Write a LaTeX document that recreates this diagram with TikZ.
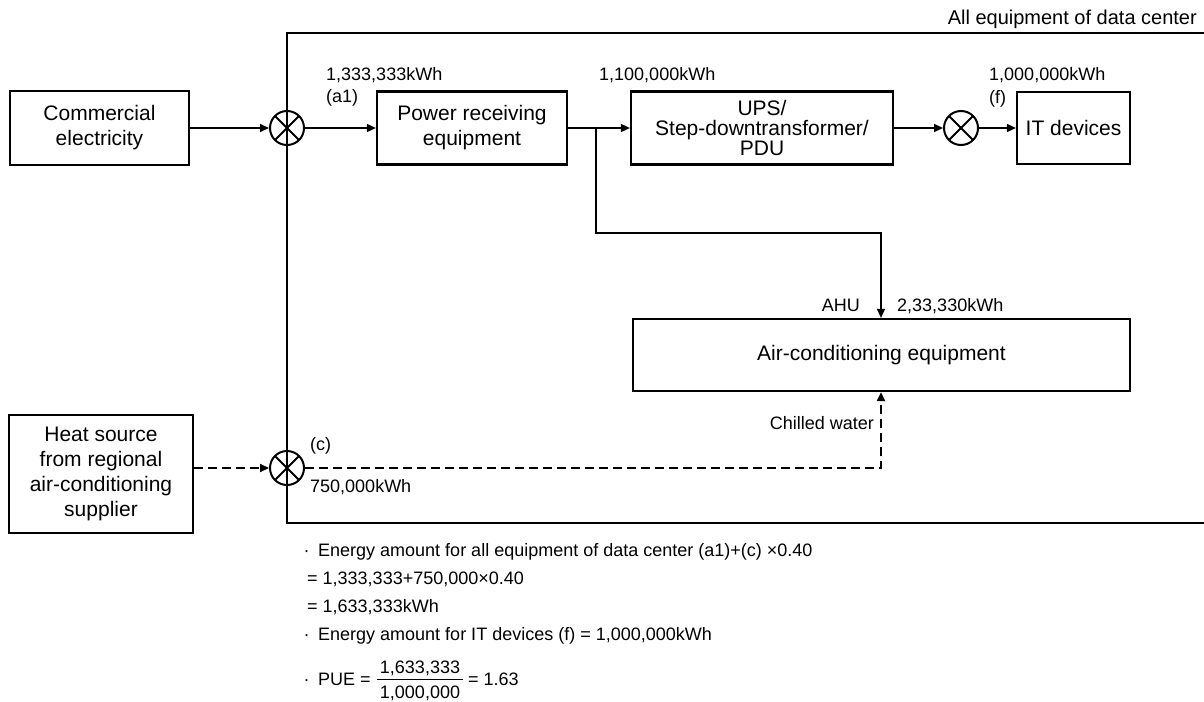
\documentclass[tikz,border=0pt]{standalone}
\usepackage{fontspec}
\setmainfont{Liberation Sans}
\usetikzlibrary{arrows.meta,calc}
\begin{document}
\begin{tikzpicture}[x=1pt,y=-1pt,
  box/.style={draw, line width=2.2pt, inner sep=0pt, align=center, font=\fontsize{21}{25}\selectfont},
  lbl/.style={inner sep=0pt, font=\fontsize{18}{22}\selectfont},
  meter/.style={circle, draw, line width=2pt, minimum size=34pt, inner sep=0pt,
    path picture={\draw[line width=2pt] (path picture bounding box.north west) -- (path picture bounding box.south east)
      (path picture bounding box.north east) -- (path picture bounding box.south west);}},
  flow/.style={line width=1.6pt, -{Triangle[length=9pt,width=8pt]}},
  branch/.style={line width=1.3pt, -{Triangle[length=9pt,width=8pt]}},
  dflow/.style={line width=2pt, dash pattern=on 9pt off 5pt, -{Triangle[length=9pt,width=8pt]}},
]
\useasboundingbox (0,0) rectangle (1204,701);

% frame of all equipment
\draw[line width=2.4pt] (1212,33) -- (287,33) -- (287,523) -- (1212,523);
\node[lbl, font=\fontsize{20}{24}\selectfont, anchor=base east] (title) at (1197,25) {All equipment of data center};

% boxes
\node[box, minimum width=179pt, minimum height=74pt] (ce) at (99.5,128) {Commercial\\electricity};
\node[box, minimum width=190pt, minimum height=73pt] (pr) at (472,128) {Power receiving\\equipment};
\node[box, font=\fontsize{21}{20}\selectfont, minimum width=262pt, minimum height=73pt] (ups) at (762,128) {UPS/\\Step-downtransformer/\\PDU};
\node[box, minimum width=113pt, minimum height=72pt] (it) at (1073.5,128) {IT devices};
\node[box, minimum width=497pt, minimum height=72pt] (ac) at (881.5,355) {Air-conditioning equipment};
\node[box, minimum width=184pt, minimum height=118pt] (hs) at (101,474) {Heat source\\from regional\\air-conditioning\\supplier};

% meters
\node[meter] (m1) at (287,128) {};
\node[meter] (m2) at (961,128) {};
\node[meter] (m3) at (287,468) {};

% connectors
\coordinate (b1) at (596,128);
\coordinate (b3) at (881,233);
\coordinate (c1) at (881,468);
\draw[flow] (ce.east) -- (m1.west);
\draw[flow] (m1.east) -- (pr.west);
\draw[flow] (pr.east) -- (ups.west);
\draw[branch] (b1) |- (b3) -- (b3 |- ac.north);
\draw[flow] (ups.east) -- (m2.west);
\draw[flow] (m2.east) -- (it.west);
\draw[dflow] (hs.east |- m3) -- (m3.west);
\draw[dflow] (m3.east) -- (c1) -- (c1 |- ac.south);

% labels
\node[lbl, anchor=base west] (la1) at (326,81) {1,333,333kWh};
\node[lbl, anchor=base west] (la1b) at (326,102) {(a1)};
\node[lbl, anchor=base west] (lu) at (599,81) {1,100,000kWh};
\node[lbl, anchor=base west] (lf) at (989,81) {1,000,000kWh};
\node[lbl, anchor=base west] (lfb) at (989,103) {(f)};
\node[lbl, anchor=base east] (ahu) at (860,311.5) {AHU};
\node[lbl, anchor=base west] (lahu) at (897,311.5) {2,33,330kWh};
\node[lbl, anchor=base east] (cw) at (874,429.5) {Chilled water};
\node[lbl, anchor=base west] (lc) at (310,450.5) {(c)};
\node[lbl, anchor=base west] (lcv) at (310,492.5) {750,000kWh};

% calculation text
\node[lbl, anchor=base west] (t1) at (303.5,556.5) {·\hspace{8.5pt}Energy amount for all equipment of data center (a1)+(c) ×0.40};
\node[lbl, anchor=base west] (t2) at (307,584) {= 1,333,333+750,000×0.40};
\node[lbl, anchor=base west] (t3) at (307,612.5) {= 1,633,333kWh};
\node[lbl, anchor=base west] (t4) at (303.5,640.5) {·\hspace{8.5pt}Energy amount for IT devices (f) = 1,000,000kWh};
\node[lbl, anchor=base west] (t5) at (303.5,685.5) {·\hspace{8.5pt}PUE =};
\node[lbl, anchor=base] (num) at (420,673.5) {1,633,333};
\node[lbl, anchor=base] (den) at (420,698.5) {1,000,000};
\coordinate (fl) at (377,679);
\coordinate (fr) at (463,679);
\draw[line width=1pt] (fl) -- (fr);
\node[lbl, anchor=base west] (t6) at (468,685.5) {= 1.63};
\end{tikzpicture}
\end{document}
